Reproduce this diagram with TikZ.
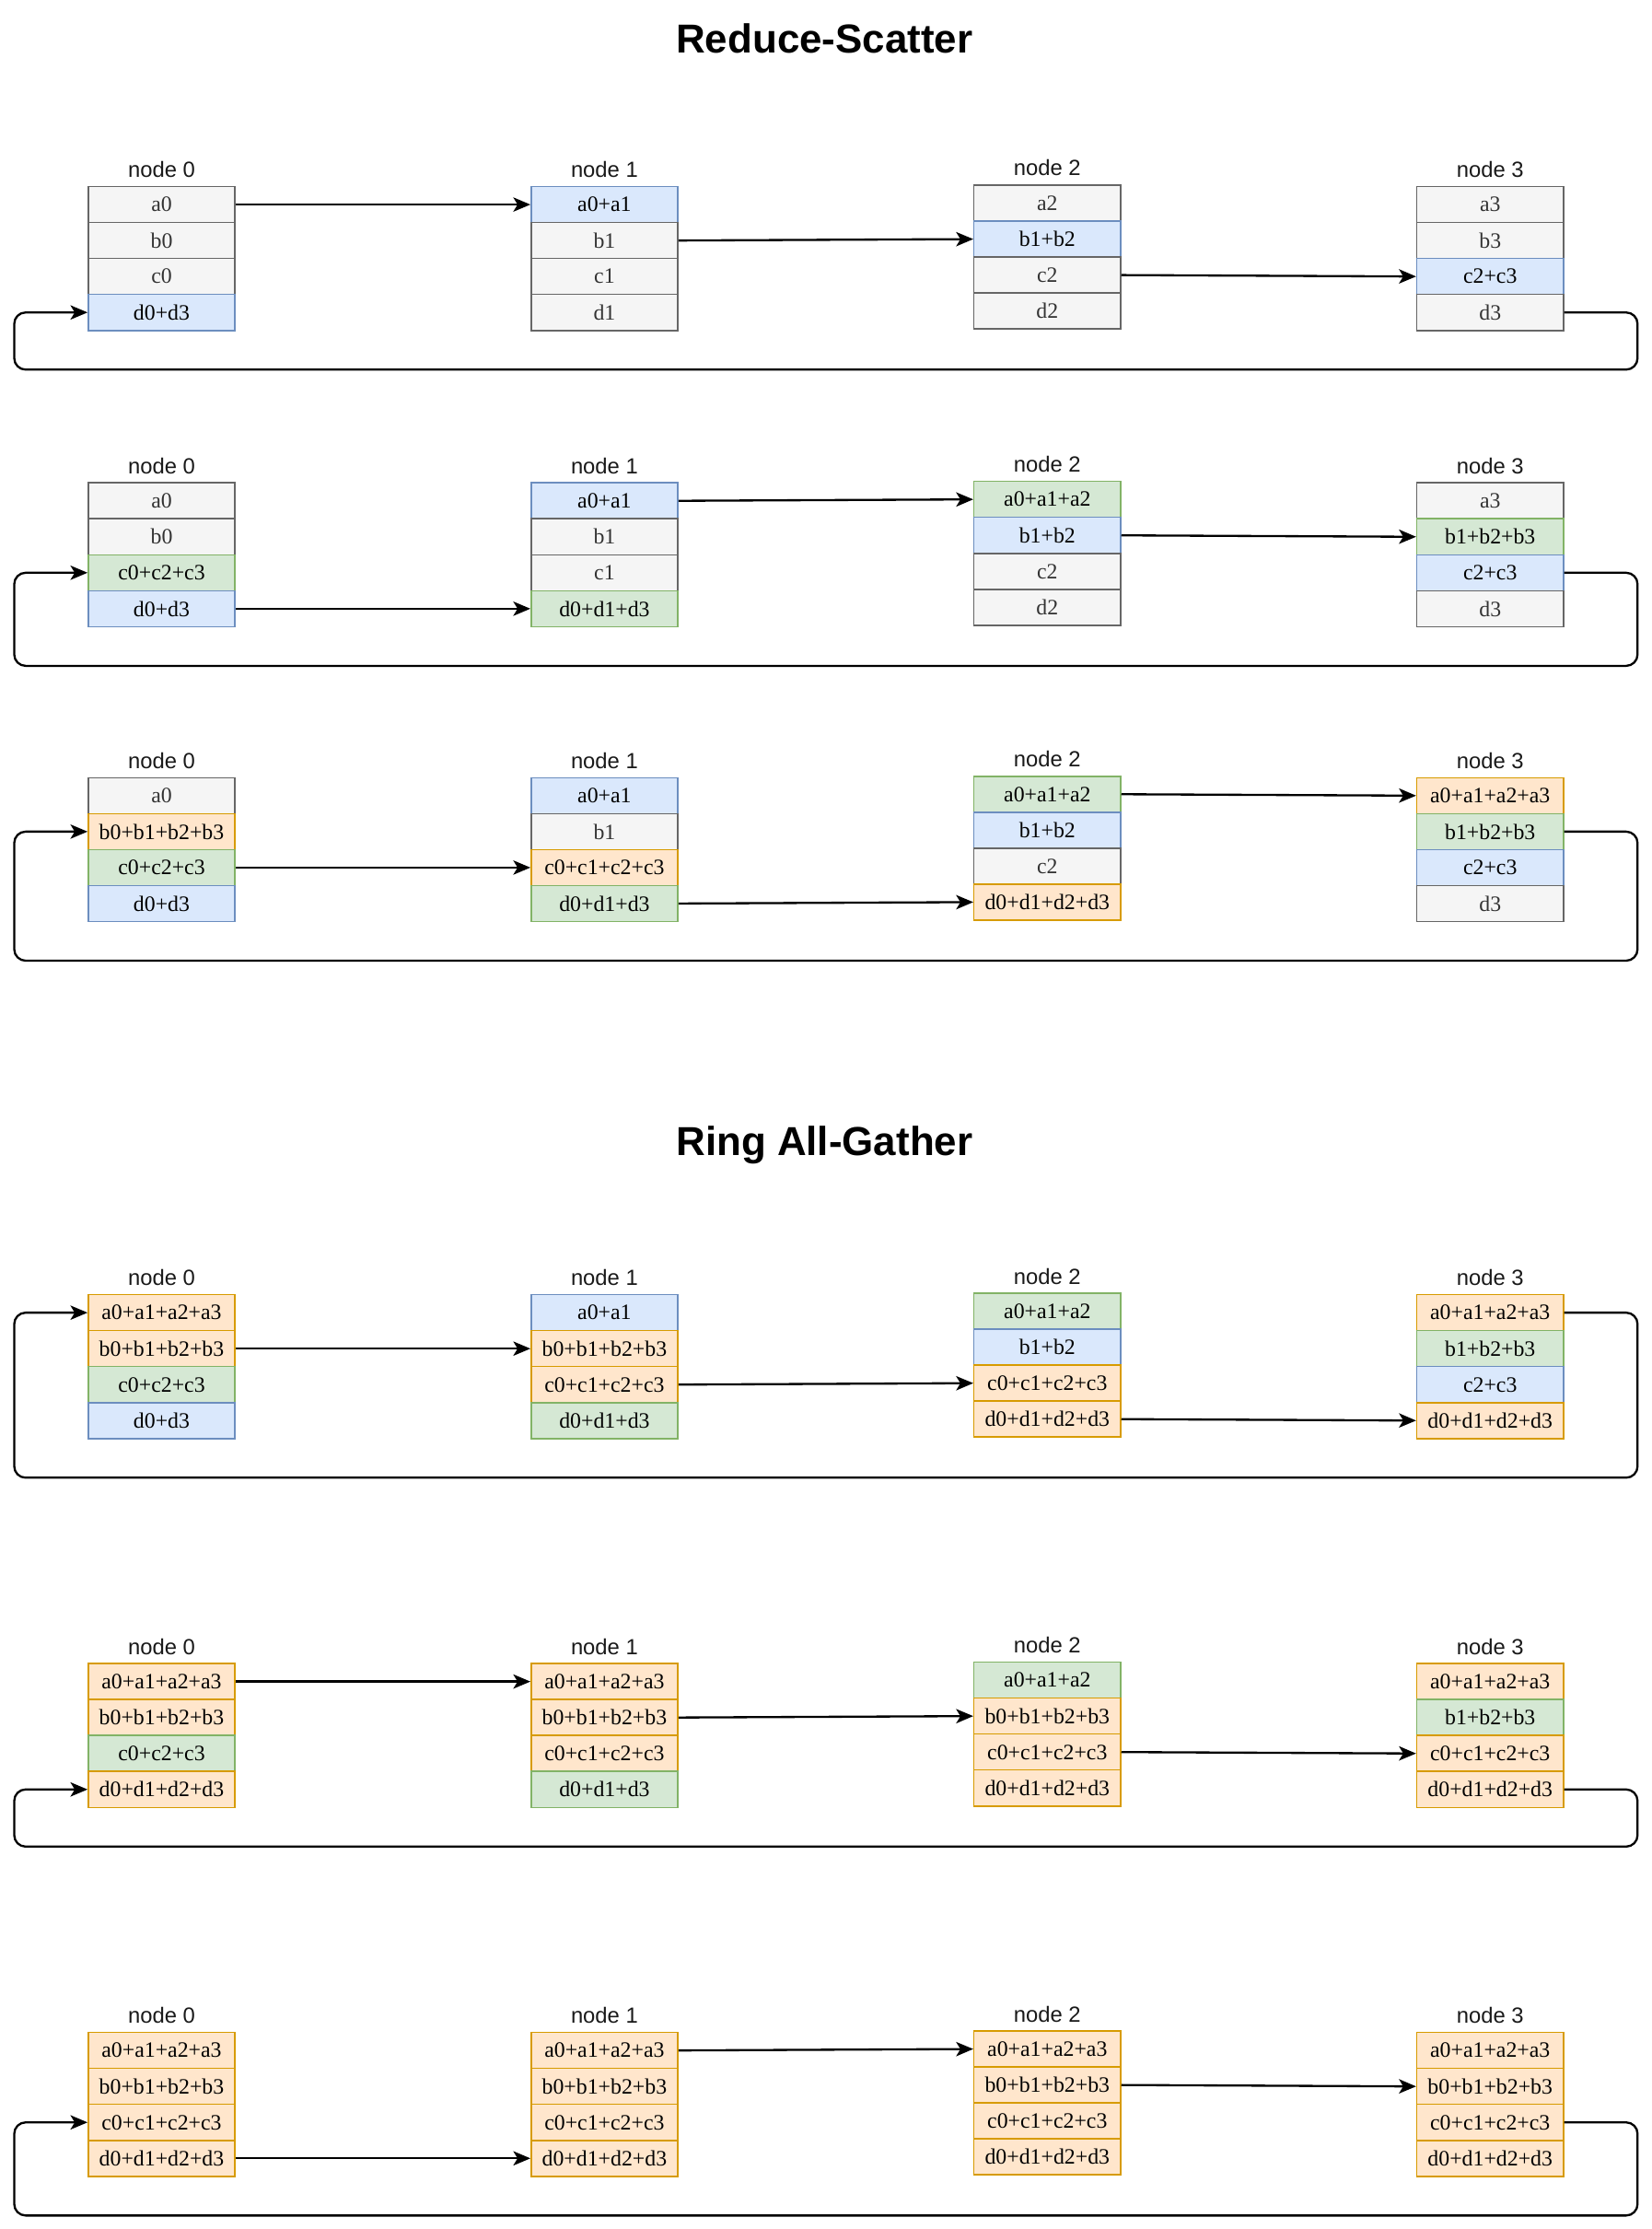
\documentclass[tikz,border=0pt]{standalone}
\usepackage{fontspec}
\setmainfont{Liberation Serif}
\newfontfamily\labelfont{Liberation Sans}
\usetikzlibrary{arrows.meta}
\definecolor{grayfill}{HTML}{F5F5F5}
\definecolor{graydraw}{HTML}{666666}
\definecolor{graytext}{HTML}{333333}
\definecolor{bluefill}{HTML}{DAE8FC}
\definecolor{bluedraw}{HTML}{6C8EBF}
\definecolor{greenfill}{HTML}{D5E8D4}
\definecolor{greendraw}{HTML}{82B366}
\definecolor{orangefill}{HTML}{FFE6CC}
\definecolor{orangedraw}{HTML}{D79B00}
\tikzset{
  cell/.style={rectangle, minimum width=103pt, minimum height=25.25pt, inner sep=0pt,
    line width=1pt, font=\fontsize{15.4}{17}\selectfont},
  cgray/.style={fill=grayfill, draw=graydraw, text=graytext},
  cblue/.style={fill=bluefill, draw=bluedraw, text=black},
  cgreen/.style={fill=greenfill, draw=greendraw, text=black},
  corange/.style={fill=orangefill, draw=orangedraw, text=black},
  lbl/.style={inner sep=0pt, font=\labelfont\fontsize{15.4}{17}\selectfont, text=black!90},
  ttl/.style={inner sep=0pt, font=\labelfont\bfseries\fontsize{28.4}{32}\selectfont},
  arr/.style={-{Stealth[length=12pt,width=10pt,inset=3pt]}, line width=1.5pt, black},
}
% #1 group, #2 column, #3 top y, #4 list of style/text
\newcommand\mkcolumn[4]{%
  \foreach \s/\t [count=\r from 0] in {#4} {
    \node[cell,\s] (g#1c#2r\r) at ({113.5+311*#2}, {#3+12.625+25.25*\r}) {\t};
  }
  \node[lbl] (g#1c#2lab) at ({113.5+311*#2}, {#3-12}) {node #2};
}
\newcommand\sendarr[2]{\draw[arr] (#1.east) -- (#2.west);}
% #1 group, #2 top y, #3 source, #4 target
\newcommand\looparr[4]{%
  \coordinate (g#1R) at (1150, {#2+128.5});
  \coordinate (g#1L) at (10, {#2+128.5});
  \draw[arr, rounded corners=8pt] (#3.east) -| (g#1R) -- (g#1L) |- (#4.west);
}
\begin{document}
\begin{tikzpicture}[x=1pt,y=-1pt]
\useasboundingbox (0,0) rectangle (1160,1565);
\node[ttl] (t1) at (579,27) {Reduce-Scatter};
\node[ttl] (t2) at (579,804) {Ring All-Gather};

% ---------- group 1
\mkcolumn{1}{0}{131}{cgray/a0, cgray/b0, cgray/c0, cblue/d0+d3}
\mkcolumn{1}{1}{131}{cblue/a0+a1, cgray/b1, cgray/c1, cgray/d1}
\mkcolumn{1}{2}{130}{cgray/a2, cblue/b1+b2, cgray/c2, cgray/d2}
\mkcolumn{1}{3}{131}{cgray/a3, cgray/b3, cblue/c2+c3, cgray/d3}
\sendarr{g1c0r0}{g1c1r0}
\sendarr{g1c1r1}{g1c2r1}
\sendarr{g1c2r2}{g1c3r2}
\looparr{1}{131}{g1c3r3}{g1c0r3}

% ---------- group 2
\mkcolumn{2}{0}{339}{cgray/a0, cgray/b0, cgreen/c0+c2+c3, cblue/d0+d3}
\mkcolumn{2}{1}{339}{cblue/a0+a1, cgray/b1, cgray/c1, cgreen/d0+d1+d3}
\mkcolumn{2}{2}{338}{cgreen/a0+a1+a2, cblue/b1+b2, cgray/c2, cgray/d2}
\mkcolumn{2}{3}{339}{cgray/a3, cgreen/b1+b2+b3, cblue/c2+c3, cgray/d3}
\sendarr{g2c1r0}{g2c2r0}
\sendarr{g2c2r1}{g2c3r1}
\looparr{2}{339}{g2c3r2}{g2c0r2}
\sendarr{g2c0r3}{g2c1r3}

% ---------- group 3
\mkcolumn{3}{0}{546}{cgray/a0, corange/b0+b1+b2+b3, cgreen/c0+c2+c3, cblue/d0+d3}
\mkcolumn{3}{1}{546}{cblue/a0+a1, cgray/b1, corange/c0+c1+c2+c3, cgreen/d0+d1+d3}
\mkcolumn{3}{2}{545}{cgreen/a0+a1+a2, cblue/b1+b2, cgray/c2, corange/d0+d1+d2+d3}
\mkcolumn{3}{3}{546}{corange/a0+a1+a2+a3, cgreen/b1+b2+b3, cblue/c2+c3, cgray/d3}
\sendarr{g3c2r0}{g3c3r0}
\looparr{3}{546}{g3c3r1}{g3c0r1}
\sendarr{g3c0r2}{g3c1r2}
\sendarr{g3c1r3}{g3c2r3}

% ---------- group 4
\mkcolumn{4}{0}{909}{corange/a0+a1+a2+a3, corange/b0+b1+b2+b3, cgreen/c0+c2+c3, cblue/d0+d3}
\mkcolumn{4}{1}{909}{cblue/a0+a1, corange/b0+b1+b2+b3, corange/c0+c1+c2+c3, cgreen/d0+d1+d3}
\mkcolumn{4}{2}{908}{cgreen/a0+a1+a2, cblue/b1+b2, corange/c0+c1+c2+c3, corange/d0+d1+d2+d3}
\mkcolumn{4}{3}{909}{corange/a0+a1+a2+a3, cgreen/b1+b2+b3, cblue/c2+c3, corange/d0+d1+d2+d3}
\looparr{4}{909}{g4c3r0}{g4c0r0}
\sendarr{g4c0r1}{g4c1r1}
\sendarr{g4c1r2}{g4c2r2}
\sendarr{g4c2r3}{g4c3r3}

% ---------- group 5
\mkcolumn{5}{0}{1168}{corange/a0+a1+a2+a3, corange/b0+b1+b2+b3, cgreen/c0+c2+c3, corange/d0+d1+d2+d3}
\mkcolumn{5}{1}{1168}{corange/a0+a1+a2+a3, corange/b0+b1+b2+b3, corange/c0+c1+c2+c3, cgreen/d0+d1+d3}
\mkcolumn{5}{2}{1167}{cgreen/a0+a1+a2, corange/b0+b1+b2+b3, corange/c0+c1+c2+c3, corange/d0+d1+d2+d3}
\mkcolumn{5}{3}{1168}{corange/a0+a1+a2+a3, cgreen/b1+b2+b3, corange/c0+c1+c2+c3, corange/d0+d1+d2+d3}
\sendarr{g5c0r0}{g5c1r0}
\sendarr{g5c1r1}{g5c2r1}
\sendarr{g5c2r2}{g5c3r2}
\looparr{5}{1168}{g5c3r3}{g5c0r3}

% ---------- group 6
\mkcolumn{6}{0}{1427}{corange/a0+a1+a2+a3, corange/b0+b1+b2+b3, corange/c0+c1+c2+c3, corange/d0+d1+d2+d3}
\mkcolumn{6}{1}{1427}{corange/a0+a1+a2+a3, corange/b0+b1+b2+b3, corange/c0+c1+c2+c3, corange/d0+d1+d2+d3}
\mkcolumn{6}{2}{1426}{corange/a0+a1+a2+a3, corange/b0+b1+b2+b3, corange/c0+c1+c2+c3, corange/d0+d1+d2+d3}
\mkcolumn{6}{3}{1427}{corange/a0+a1+a2+a3, corange/b0+b1+b2+b3, corange/c0+c1+c2+c3, corange/d0+d1+d2+d3}
\sendarr{g6c1r0}{g6c2r0}
\sendarr{g6c2r1}{g6c3r1}
\looparr{6}{1427}{g6c3r2}{g6c0r2}
\sendarr{g6c0r3}{g6c1r3}
\end{tikzpicture}
\end{document}
